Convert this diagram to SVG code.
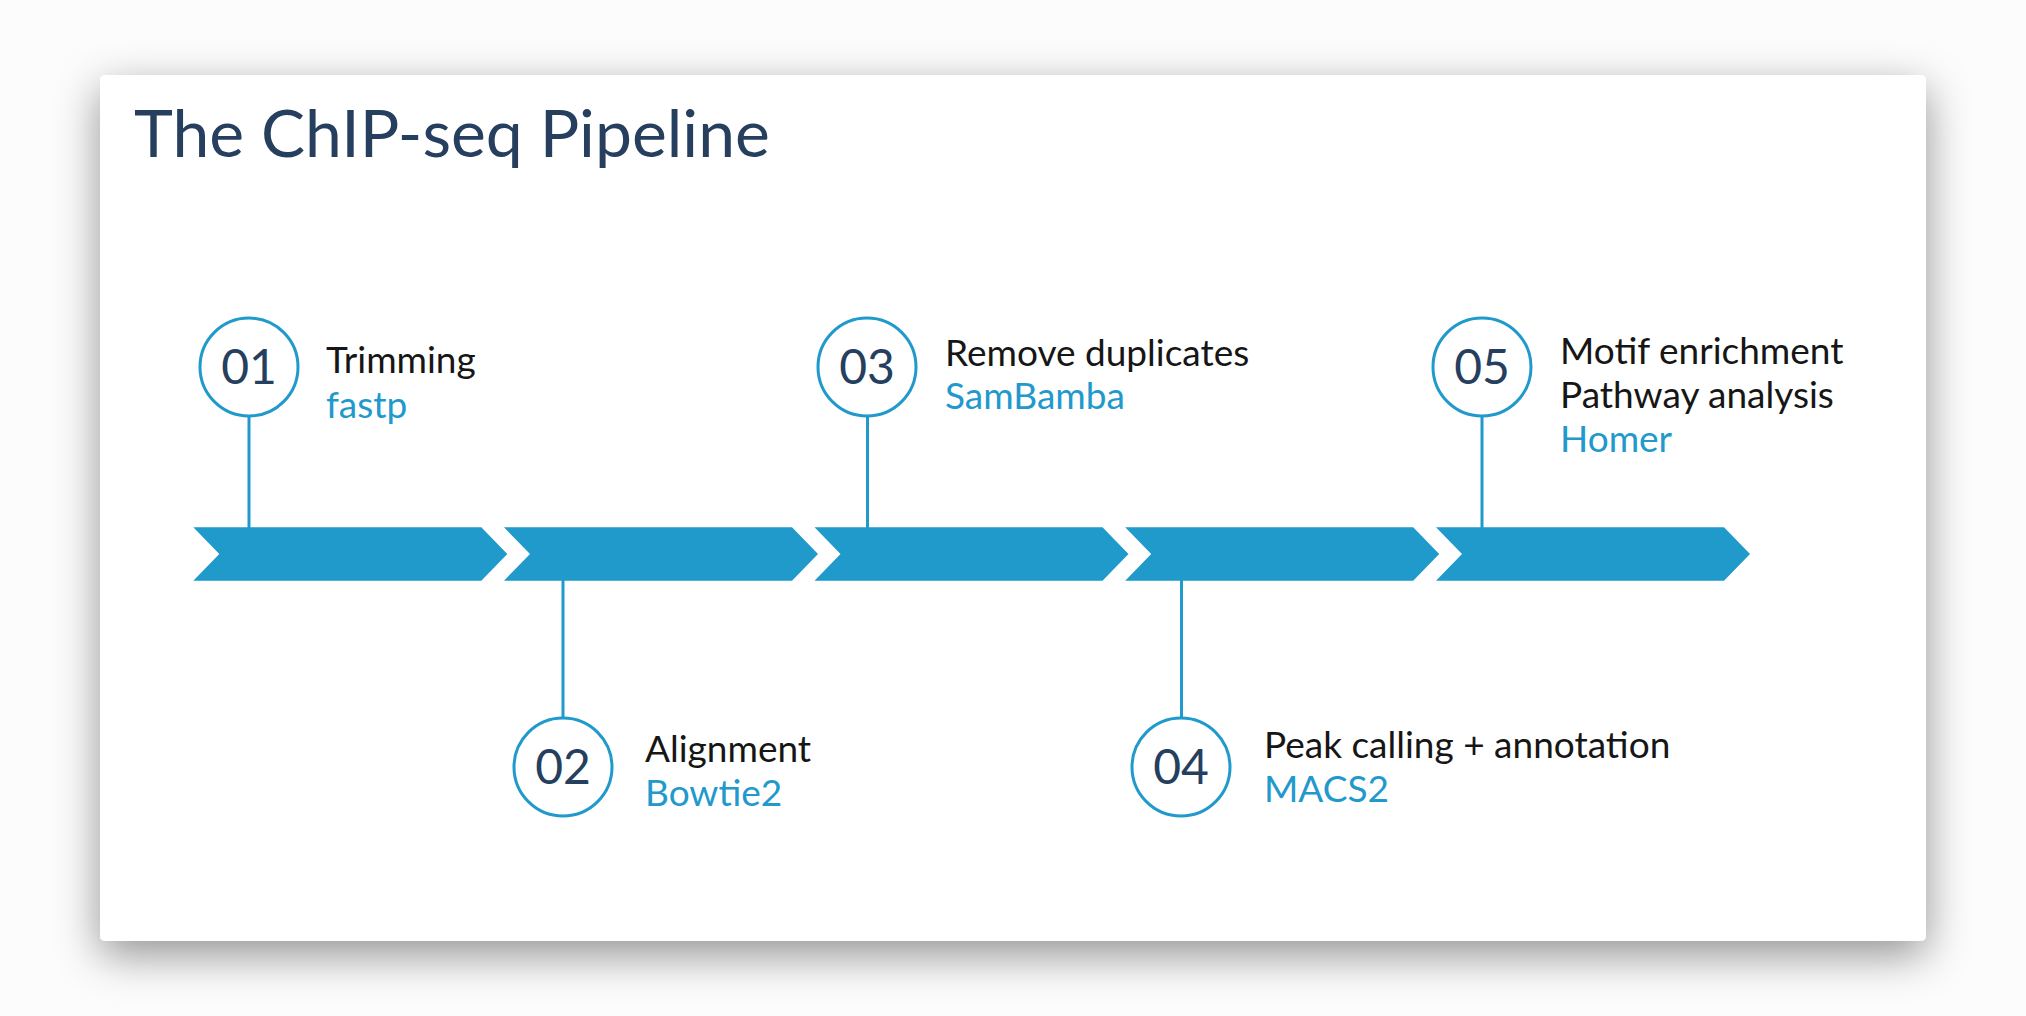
<svg xmlns="http://www.w3.org/2000/svg" width="2026" height="1016" viewBox="0 0 2026 1016">
  <defs>
    <filter id="shadow" x="-10%" y="-15%" width="120%" height="135%">
      <feDropShadow dx="0" dy="14" stdDeviation="22" flood-color="#000" flood-opacity="0.42"/>
    </filter>
    <path id="chev" d="M0,0 L288,0 L314,26.7 L288,53.4 L0,53.4 L26,26.7 Z"/>
  </defs>
  <style>
    .chev { fill: #1f9acb; }
    .conn { stroke: #1f9acb; stroke-width: 3; fill: none; }
    .ring { fill: #ffffff; stroke: #1f9acb; stroke-width: 3; }
    .num { font-family: Lato, "Open Sans", sans-serif; font-size: 48px; fill: #263f5f; text-anchor: middle; }
    .step { font-family: Lato, "Open Sans", sans-serif; font-size: 37px; fill: #161616; }
    .tool { font-family: Lato, "Open Sans", sans-serif; font-size: 37px; fill: #2299cc; }
    .title { font-family: Lato, "Open Sans", sans-serif; font-size: 66px; fill: #263f5f; }
  </style>
  <rect x="0" y="0" width="2026" height="1016" fill="#fcfcfc"/>
  <rect id="card" x="100" y="75" width="1826" height="866" rx="5" fill="#ffffff" filter="url(#shadow)"/>
  <text class="title" x="134" y="157">The ChIP-seq Pipeline</text>

  <g id="timeline">
    <use href="#chev" class="chev" x="193.3" y="527.3"/>
    <use href="#chev" class="chev" x="504" y="527.3"/>
    <use href="#chev" class="chev" x="814.5" y="527.3"/>
    <use href="#chev" class="chev" x="1125.2" y="527.3"/>
    <use href="#chev" class="chev" x="1436" y="527.3"/>
  </g>

  <g id="connectors">
    <line class="conn" x1="249" y1="417" x2="249" y2="528"/>
    <line class="conn" x1="563" y1="580" x2="563" y2="717"/>
    <line class="conn" x1="867.5" y1="417" x2="867.5" y2="528"/>
    <line class="conn" x1="1181.5" y1="580" x2="1181.5" y2="717"/>
    <line class="conn" x1="1482" y1="417" x2="1482" y2="528"/>
  </g>

  <g id="step01">
    <circle class="ring" cx="249" cy="367" r="49"/>
    <text class="num" x="249" y="384">01</text>
    <text class="step" x="326" y="373">Trimming</text>
    <text class="tool" x="326" y="418">fastp</text>
  </g>
  <g id="step02">
    <circle class="ring" cx="563" cy="767" r="49"/>
    <text class="num" x="563" y="784">02</text>
    <text class="step" x="645" y="762">Alignment</text>
    <text class="tool" x="645" y="806">Bowtie2</text>
  </g>
  <g id="step03">
    <circle class="ring" cx="867" cy="367" r="49"/>
    <text class="num" x="867" y="384">03</text>
    <text class="step" x="945" y="366">Remove duplicates</text>
    <text class="tool" x="945" y="409">SamBamba</text>
  </g>
  <g id="step04">
    <circle class="ring" cx="1181" cy="767" r="49"/>
    <text class="num" x="1181" y="784">04</text>
    <text class="step" x="1264" y="758">Peak calling + annotation</text>
    <text class="tool" x="1264" y="802">MACS2</text>
  </g>
  <g id="step05">
    <circle class="ring" cx="1482" cy="367" r="49"/>
    <text class="num" x="1482" y="384">05</text>
    <text class="step" x="1560" y="364">Motif enrichment</text>
    <text class="step" x="1560" y="408">Pathway analysis</text>
    <text class="tool" x="1560" y="452">Homer</text>
  </g>
</svg>
